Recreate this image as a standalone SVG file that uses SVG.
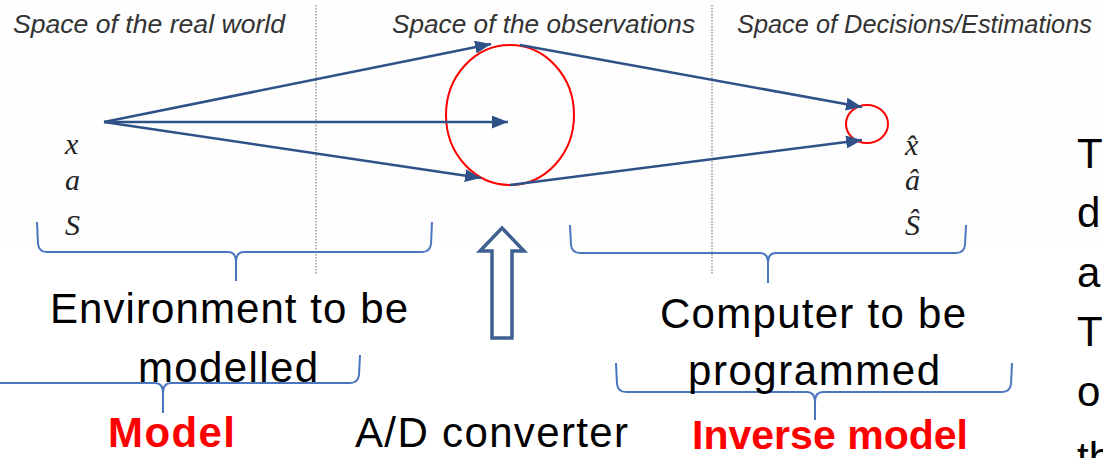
<svg xmlns="http://www.w3.org/2000/svg" width="1103" height="458" viewBox="0 0 1103 458">
<style>
.title{font-family:"Liberation Sans",Arial,sans-serif;font-style:italic;font-size:25px;fill:#333333}
.var{font-family:"Liberation Serif","Times New Roman",serif;font-style:italic;font-size:30px;fill:#222}
.body{font-family:"Liberation Sans",Arial,sans-serif;font-size:42px;fill:#000}
.red{font-family:"Liberation Sans",Arial,sans-serif;font-size:42px;font-weight:bold;fill:#ff0000}
.conn{stroke:#2e5288;stroke-width:2.5;fill:none}
.brace{stroke:#4a76bf;stroke-width:2;fill:none}
.dot{stroke:#a0a0a0;stroke-width:1.6;stroke-dasharray:1.6 1.4;fill:none}
.ring{stroke:#ff0000;stroke-width:2;fill:none}
</style>
<defs>
<marker id="ah" markerUnits="userSpaceOnUse" markerWidth="17" markerHeight="13" refX="16" refY="6.5" orient="auto">
<path d="M0,0 L16,6.5 L0,13 z" fill="#2e5288"/>
</marker>
</defs>
<rect x="0" y="0" width="1103" height="458" fill="#ffffff"/>
<rect x="0" y="0" width="1103" height="246" fill="#fefefe"/>

<g id="dividers">
<line class="dot" x1="316" y1="5" x2="316" y2="274"/>
<line class="dot" x1="712" y1="5" x2="712" y2="274"/>
</g>

<g id="titles">
<text class="title" x="13" y="33" textLength="272" lengthAdjust="spacingAndGlyphs">Space of the real world</text>
<text class="title" x="392" y="33" textLength="303" lengthAdjust="spacingAndGlyphs">Space of the observations</text>
<text class="title" x="737" y="33" textLength="355" lengthAdjust="spacingAndGlyphs">Space of Decisions/Estimations</text>
</g>

<g id="real-vars">
<text class="var" x="65" y="154">x</text>
<text class="var" x="65" y="190">a</text>
<text class="var" x="65" y="235">S</text>
</g>

<g id="obs-circle">
<ellipse class="ring" cx="510" cy="115" rx="64" ry="70"/>
</g>

<g id="decision-circle">
<ellipse class="ring" cx="867" cy="124" rx="21" ry="19"/>
</g>

<g id="est-vars">
<text class="var" x="905" y="155">x&#770;</text>
<text class="var" x="905" y="190">&#226;</text>
<text class="var" x="905" y="235">&#348;</text>
</g>

<g id="connectors">
<line class="conn" x1="104" y1="122" x2="491" y2="44" marker-end="url(#ah)"/>
<line class="conn" x1="104" y1="122" x2="508" y2="122" marker-end="url(#ah)"/>
<line class="conn" x1="104" y1="122" x2="481" y2="178" marker-end="url(#ah)"/>
<line class="conn" x1="520" y1="45" x2="862" y2="107" marker-end="url(#ah)"/>
<line class="conn" x1="510" y1="185" x2="862" y2="140" marker-end="url(#ah)"/>
</g>

<g id="ad-arrow">
<polygon points="502,228 524,251 512,251 512,338 492,338 492,251 480,251" fill="#ffffff" stroke="#3e6191" stroke-width="3.5" stroke-linejoin="miter"/>
</g>

<g id="brace-environment">
<path class="brace" d="M37,222 L38,244 Q39,252 47,252 L228,252 Q236,252 236,262 L236,281 M236,262 Q236,252 244,252 L422,252 Q430,252 431,244 L432,222"/>
</g>
<g id="brace-model">
<path class="brace" d="M-10,383 L155,383 Q163,383 163,393 L163,413 M163,393 Q163,383 171,383 L350,383 Q358,383 359,375 L360,355"/>
</g>
<g id="brace-computer">
<path class="brace" d="M570,225 L571,245 Q572,253 580,253 L760,253 Q768,253 768,263 L768,283 M768,263 Q768,253 776,253 L956,253 Q964,253 965,245 L966,225"/>
</g>
<g id="brace-inverse">
<path class="brace" d="M616,363 L617,384 Q618,392 626,392 L807,392 Q815,392 815,402 L815,420 M815,402 Q815,392 823,392 L1002,392 Q1010,392 1011,384 L1012,363"/>
</g>

<g id="label-environment">
<text class="body" x="50" y="323" textLength="358">Environment to be</text>
<text class="body" x="138" y="382" textLength="180">modelled</text>
</g>
<g id="label-computer">
<text class="body" x="660" y="328" textLength="306">Computer to be</text>
<text class="body" x="688" y="385" textLength="252">programmed</text>
</g>
<g id="label-model">
<text class="red" x="108" y="447" textLength="127">Model</text>
</g>
<g id="label-ad">
<text class="body" x="355" y="447" textLength="273">A/D converter</text>
</g>
<g id="label-inverse">
<text class="red" x="692" y="449" style="font-size:40px" textLength="276" lengthAdjust="spacingAndGlyphs">Inverse model</text>
</g>

<g id="side-text">
<text class="body" x="1077" y="168">T</text>
<text class="body" x="1077" y="227">d</text>
<text class="body" x="1077" y="287">a</text>
<text class="body" x="1077" y="346">T</text>
<text class="body" x="1077" y="406">o</text>
<text class="body" x="1077" y="472">th</text>
</g>
</svg>
